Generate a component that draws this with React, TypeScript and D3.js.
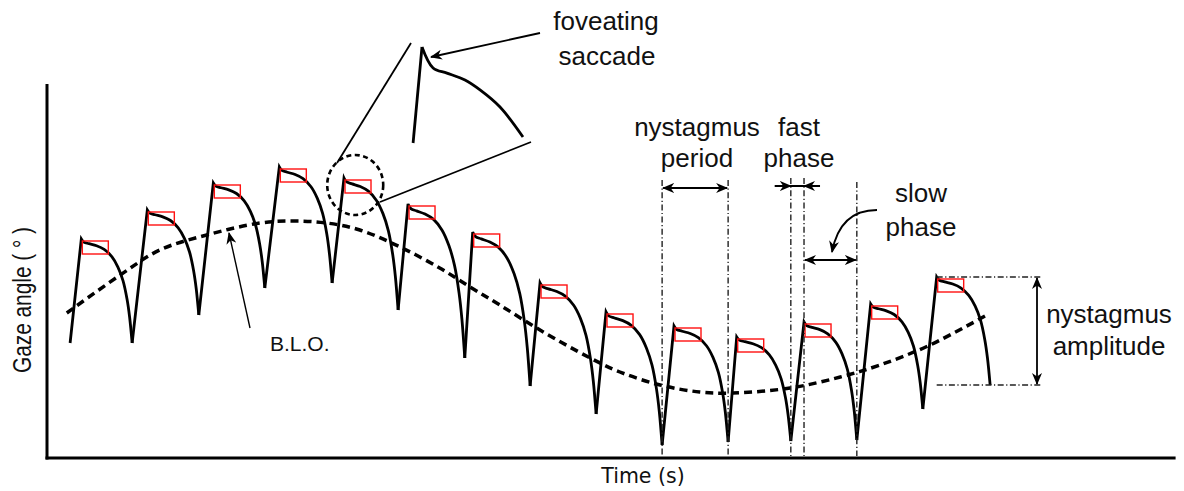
import React from "react";
import * as d3 from "d3";

// ---- data (time in s, gaze angle in deg) ----
const troughTimes = [0.35, 1.29, 2.3, 3.3, 4.32, 5.32, 6.33, 7.32, 8.32, 9.32, 10.32, 11.27, 12.27, 13.27, 14.29];
const troughAngles = [11.5, 11.5, 14.3, 17.0, 17.5, 14.8, 10.0, 7.2, 4.4, 1.3, 1.6, 1.7, 1.8, 4.9, 7.3];
const peakTimes = [0.52, 1.52, 2.52, 3.52, 4.5, 5.47, 6.45, 7.47, 8.47, 9.5, 10.45, 11.47, 12.48, 13.48];
const peakAngles = [21.9, 24.8, 27.5, 29.1, 28.0, 25.4, 22.6, 17.5, 14.6, 13.2, 12.1, 13.6, 15.4, 18.1];

// slow-phase shape (fraction of span from peak to trough)
const slowU = [0, 0.05, 0.15, 0.3, 0.45, 0.6, 0.72, 0.82, 0.9, 0.95, 1];
const slowV = [0, 0.03, 0.045, 0.065, 0.1, 0.17, 0.27, 0.4, 0.58, 0.75, 1];

// baseline oscillation (B.L.O.)
const bloTimes = [0.3, 1.11, 1.71, 2.42, 3.23, 3.73, 4.24, 4.74, 5.35, 5.95, 6.41, 6.86, 7.47, 8.23, 8.68, 9.29, 9.89, 10.39, 11.26, 12.02, 12.62, 13.38, 14.24];
const bloAngles = [14.5, 18.3, 20.8, 22.3, 23.5, 23.7, 23.5, 22.8, 21.1, 19.0, 17.1, 15.3, 12.8, 10.0, 8.6, 7.3, 6.6, 6.5, 7.0, 8.1, 9.3, 11.3, 14.3];

// magnified foveating saccade (offsets from cycle-5 peak)
const insetDt = [-0.045, 0, 0.056, 0.126, 0.217, 0.293, 0.394, 0.51];
const insetDa = [-3.2, 0, -0.7, -0.87, -1.1, -1.43, -2.0, -3.0];

const W = 1184, H = 491;
const xS = d3.scaleLinear().domain([0, 17.1]).range([47, 1175.6]);
const yS = d3.scaleLinear().domain([0, 37.4]).range([458, 84]);

const FONT = "'Liberation Sans', Arial, sans-serif";
const DD = "6,2.5,1.2,2.5";

export default function App() {
  const curve = d3.line<[number, number]>().x(d => d[0]).y(d => d[1]).curve(d3.curveCatmullRom.alpha(0.5));

  const cycles = peakTimes.map((pt, i) => {
    const st = troughTimes[i], sa = troughAngles[i];
    const pa = peakAngles[i];
    const et = troughTimes[i + 1], ea = troughAngles[i + 1];
    const pts: [number, number][] = slowU.map((u, k) => [xS(pt + u * (et - pt)), yS(pa + slowV[k] * (ea - pa))]);
    const slow = curve(pts) || "";
    const d = `M${xS(st)},${yS(sa)}L${xS(pt)},${yS(pa)}` + "L" + slow.slice(1);
    return { d, rx: xS(pt) + 1, ry: yS(pa) + 2 };
  });

  const bloLine = d3.line<number>().x((_, i) => xS(bloTimes[i])).y(d => yS(d)).curve(d3.curveCatmullRom)(bloAngles) || "";

  // inset
  const p5t = peakTimes[4], p5a = peakAngles[4];
  const mag = 3;
  const ox = 422, oy = 47;
  const insetPts: [number, number][] = insetDt.map((dt, i) => [
    ox + mag * (xS(p5t + dt) - xS(p5t)),
    oy + mag * (yS(p5a + insetDa[i]) - yS(p5a)),
  ]);
  const insetRise = `M${insetPts[0][0]},${insetPts[0][1]}L${insetPts[1][0]},${insetPts[1][1]}`;
  const insetSlow = d3.line<[number, number]>().curve(d3.curveCatmullRom.alpha(0.5))(insetPts.slice(1)) || "";
  const ecx = xS(p5t + 0.17), ecy = yS(p5a - 0.7);

  const xPer1 = xS(troughTimes[9]), xPer2 = xS(troughTimes[10]);
  const xFast1 = xS(troughTimes[11]), xFast2 = xS(peakTimes[11]);
  const xSlow2 = xS(troughTimes[12]);
  const yAmpTop = yS(peakAngles[13]), yAmpBot = yS(troughAngles[14]);
  const xAmp0 = xS(peakTimes[13]);
  const axisBottom = yS(0);

  const txt = (x: number, y: number, s: string, size = 26) => (
    <text x={x} y={y} textAnchor="middle" fontFamily={FONT} fontSize={size} fill="#111">{s}</text>
  );

  return (
    <svg width={W} height={H} style={{ position: "absolute", left: 0, top: 0, background: "#fff" }}>
      <defs>
        <marker id="ah" viewBox="0 0 12 10" refX="11" refY="5" markerWidth="12" markerHeight="10" markerUnits="userSpaceOnUse" orient="auto-start-reverse">
          <path d="M0,0 L12,5 L0,10 L3.5,5 z" fill="#000" />
        </marker>
      </defs>

      {/* axes */}
      <line x1={xS(0)} y1={yS(37.4)} x2={xS(0)} y2={axisBottom + 1.5} stroke="#000" strokeWidth={3} />
      <line x1={xS(0) - 1.5} y1={axisBottom} x2={xS(17.1)} y2={axisBottom} stroke="#000" strokeWidth={3} />

      {/* BLO dashed */}
      <path d={bloLine} fill="none" stroke="#000" strokeWidth={3.5} strokeDasharray="8,5" />

      {/* nystagmus trace */}
      {cycles.map((c, i) => (
        <path key={"c" + i} d={c.d} fill="none" stroke="#000" strokeWidth={2.8} strokeLinejoin="miter" />
      ))}
      {cycles.map((c, i) => (
        <rect key={"r" + i} x={c.rx} y={c.ry} width={26} height={13} fill="none" stroke="#f11" strokeWidth={1.4} />
      ))}

      {/* dashed circle and zoom lines */}
      <ellipse cx={ecx} cy={ecy} rx={28} ry={30} fill="none" stroke="#000" strokeWidth={2.6} strokeDasharray="5,3.5" />
      <line x1={337} y1={163} x2={411} y2={43} stroke="#000" strokeWidth={1.8} />
      <line x1={380} y1={202} x2={531} y2={142} stroke="#000" strokeWidth={1.8} />
      <path d={insetRise} fill="none" stroke="#000" strokeWidth={2.8} />
      <path d={insetSlow} fill="none" stroke="#000" strokeWidth={2.8} />

      {/* foveating saccade */}
      {txt(606, 30, "foveating")}
      {txt(607, 65, "saccade")}
      <line x1={540} y1={33} x2={431} y2={57} stroke="#000" strokeWidth={1.8} markerEnd="url(#ah)" />

      {/* B.L.O. */}
      <text x={270} y={351} fontFamily={FONT} fontSize={21} fill="#111">B.L.O.</text>
      <line x1={250} y1={328} x2={229} y2={233} stroke="#000" strokeWidth={1.4} markerEnd="url(#ah)" />

      {/* nystagmus period */}
      {txt(697, 136, "nystagmus")}
      {txt(697, 167, "period")}
      <line x1={xPer1} y1={180} x2={xPer1} y2={axisBottom - 2} stroke="#222" strokeWidth={1.4} strokeDasharray={DD} />
      <line x1={xPer2} y1={180} x2={xPer2} y2={axisBottom - 2} stroke="#222" strokeWidth={1.4} strokeDasharray={DD} />
      <line x1={xPer1 + 1} y1={188} x2={xPer2 - 1} y2={188} stroke="#000" strokeWidth={1.8} markerStart="url(#ah)" markerEnd="url(#ah)" />

      {/* fast phase */}
      {txt(799, 136, "fast")}
      {txt(799, 167, "phase")}
      <line x1={xFast1} y1={178} x2={xFast1} y2={axisBottom - 2} stroke="#222" strokeWidth={1.4} strokeDasharray={DD} />
      <line x1={xFast2} y1={178} x2={xFast2} y2={axisBottom - 2} stroke="#222" strokeWidth={1.4} strokeDasharray={DD} />
      <line x1={xFast1 - 16} y1={186} x2={xFast2 + 16} y2={186} stroke="#000" strokeWidth={1.8} />
      <line x1={xFast1 - 16} y1={186} x2={xFast1} y2={186} stroke="#000" strokeWidth={1.8} markerEnd="url(#ah)" />
      <line x1={xFast2 + 16} y1={186} x2={xFast2} y2={186} stroke="#000" strokeWidth={1.8} markerEnd="url(#ah)" />

      {/* slow phase */}
      {txt(921, 202, "slow")}
      {txt(921, 236, "phase")}
      <line x1={xSlow2} y1={182} x2={xSlow2} y2={axisBottom - 2} stroke="#222" strokeWidth={1.4} strokeDasharray={DD} />
      <line x1={xFast2 + 1} y1={260} x2={xSlow2 - 1} y2={260} stroke="#000" strokeWidth={1.8} markerStart="url(#ah)" markerEnd="url(#ah)" />
      <path d="M877,210 Q840,210 832,252" fill="none" stroke="#000" strokeWidth={1.8} markerEnd="url(#ah)" />

      {/* amplitude */}
      <line x1={xAmp0} y1={yAmpTop} x2={1042} y2={yAmpTop} stroke="#222" strokeWidth={1.4} strokeDasharray={DD} />
      <line x1={xAmp0} y1={yAmpBot} x2={1042} y2={yAmpBot} stroke="#222" strokeWidth={1.4} strokeDasharray={DD} />
      <line x1={1037} y1={yAmpTop + 1} x2={1037} y2={yAmpBot - 1} stroke="#000" strokeWidth={1.8} markerStart="url(#ah)" markerEnd="url(#ah)" />
      {txt(1109, 323, "nystagmus")}
      {txt(1109, 355, "amplitude")}

      {/* axis titles */}
      <text transform="translate(31,300) rotate(-90)" textAnchor="middle" fontFamily={FONT} fontSize={26} textLength={146} lengthAdjust="spacingAndGlyphs" fill="#111">Gaze angle ( ° )</text>
      <text x={643} y={483} textAnchor="middle" fontFamily="'DejaVu Sans', sans-serif" fontSize={20.5} fill="#111">Time (s)</text>
    </svg>
  );
}
